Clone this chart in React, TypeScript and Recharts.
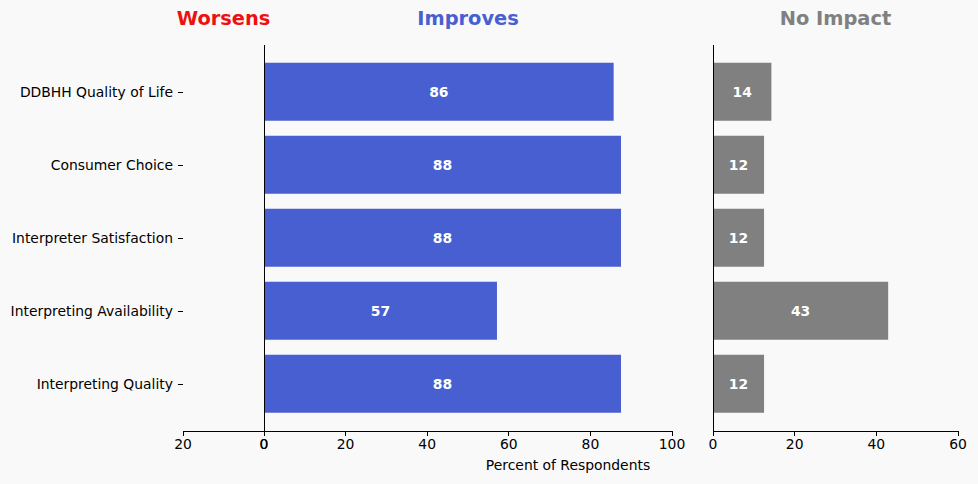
import React from 'react';
import { BarChart, Bar, XAxis, YAxis, LabelList } from 'recharts';

const categories = [
  'DDBHH Quality of Life',
  'Consumer Choice',
  'Interpreter Satisfaction',
  'Interpreting Availability',
  'Interpreting Quality',
];
const worsens = [0, 0, 0, 0, 0];
const improves = [85.7, 87.5, 87.5, 57.1, 87.5];
const noImpact = [14.3, 12.5, 12.5, 42.9, 12.5];

const worsensTicks = [0, 20];
const improvesTicks = [0, 20, 40, 60, 80, 100];
const noImpactTicks = [0, 20, 40, 60];

const data = categories.map((name, i) => ({
  name,
  worsens: worsens[i],
  improves: improves[i],
  noImpact: noImpact[i],
}));

const BLUE = '#485FD1';
const GRAY = '#808080';
const RED = '#EE1111';
const FONT = 13.9;

// round half to even, like python's "%.0f"
const roundLabel = (v: any) => {
  const n = Number(v);
  const f = Math.floor(n);
  const d = n - f;
  if (Math.abs(d - 0.5) < 1e-9) return String(f % 2 === 0 ? f : f + 1);
  return String(Math.round(n));
};

const tickStyle = { fill: '#000', fontSize: FONT };
const yPad = { top: 10.5, bottom: 10.5 };
const lineStyle = { stroke: '#000', shapeRendering: 'crispEdges' } as any;

const Title: React.FC<{ x: number; color: string; text: string }> = ({ x, color, text }) => (
  <div
    style={{
      position: 'absolute',
      left: x,
      top: 19,
      transform: 'translate(-50%, -50%)',
      color,
      fontWeight: 'bold',
      fontSize: 19.4,
      lineHeight: 1,
      whiteSpace: 'nowrap',
    }}
  >
    {text}
  </div>
);

export default function App() {
  return (
    <div
      style={{
        position: 'fixed',
        left: 0,
        top: 0,
        width: 978,
        height: 484,
        background: '#F9F9F9',
        fontFamily: '"DejaVu Sans", sans-serif',
        overflow: 'hidden',
      }}
    >
      {/* Worsens panel */}
      <div style={{ position: 'absolute', left: 0, top: 0 }}>
        <BarChart
          width={300}
          height={484}
          data={data}
          layout="vertical"
          margin={{ top: 45, right: 36, bottom: 23, left: 0 }}
          barCategoryGap="10%"
        >
          <XAxis
            type="number"
            domain={[0, 20]}
            ticks={worsensTicks}
            reversed
            height={30}
            tick={tickStyle}
            axisLine={lineStyle}
            tickLine={lineStyle}
            tickSize={5}
            tickMargin={3}
          />
          <YAxis
            type="category"
            dataKey="name"
            width={183}
            padding={yPad}
            axisLine={false}
            tick={tickStyle}
            tickLine={lineStyle}
            tickSize={5}
            tickMargin={5}
          />
          <Bar dataKey="worsens" fill={RED} isAnimationActive={false} />
        </BarChart>
      </div>

      {/* Improves panel */}
      <div style={{ position: 'absolute', left: 230, top: 0 }}>
        <BarChart
          width={480}
          height={484}
          data={data}
          layout="vertical"
          margin={{ top: 45, right: 38, bottom: 23, left: 33 }}
          barCategoryGap="10%"
        >
          <XAxis
            type="number"
            domain={[0, 100]}
            ticks={improvesTicks}
            height={30}
            tick={tickStyle}
            axisLine={lineStyle}
            tickLine={lineStyle}
            tickSize={5}
            tickMargin={3}
          />
          <YAxis
            type="category"
            dataKey="name"
            width={1}
            padding={yPad}
            tick={false}
            tickLine={false}
            axisLine={lineStyle}
          />
          <Bar dataKey="improves" fill={BLUE} isAnimationActive={false}>
            <LabelList
              dataKey="improves"
              position="center"
              formatter={roundLabel}
              fill="#fff"
              fontWeight="bold"
              fontSize={FONT}
            />
          </Bar>
        </BarChart>
      </div>

      {/* No Impact panel */}
      <div style={{ position: 'absolute', left: 680, top: 0 }}>
        <BarChart
          width={298}
          height={484}
          data={data}
          layout="vertical"
          margin={{ top: 45, right: 20, bottom: 23, left: 32 }}
          barCategoryGap="10%"
        >
          <XAxis
            type="number"
            domain={[0, 60]}
            ticks={noImpactTicks}
            height={30}
            tick={tickStyle}
            axisLine={lineStyle}
            tickLine={lineStyle}
            tickSize={5}
            tickMargin={3}
          />
          <YAxis
            type="category"
            dataKey="name"
            width={1}
            padding={yPad}
            tick={false}
            tickLine={false}
            axisLine={lineStyle}
          />
          <Bar dataKey="noImpact" fill={GRAY} isAnimationActive={false}>
            <LabelList
              dataKey="noImpact"
              position="center"
              formatter={roundLabel}
              fill="#fff"
              fontWeight="bold"
              fontSize={FONT}
            />
          </Bar>
        </BarChart>
      </div>

      <Title x={223.5} color={RED} text="Worsens" />
      <Title x={468} color={BLUE} text="Improves" />
      <Title x={835.5} color={GRAY} text="No Impact" />

      <div
        style={{
          position: 'absolute',
          left: 568,
          top: 466,
          transform: 'translate(-50%, -50%)',
          fontSize: FONT,
          lineHeight: 1,
          color: '#000',
          whiteSpace: 'nowrap',
        }}
      >
        Percent of Respondents
      </div>
    </div>
  );
}
